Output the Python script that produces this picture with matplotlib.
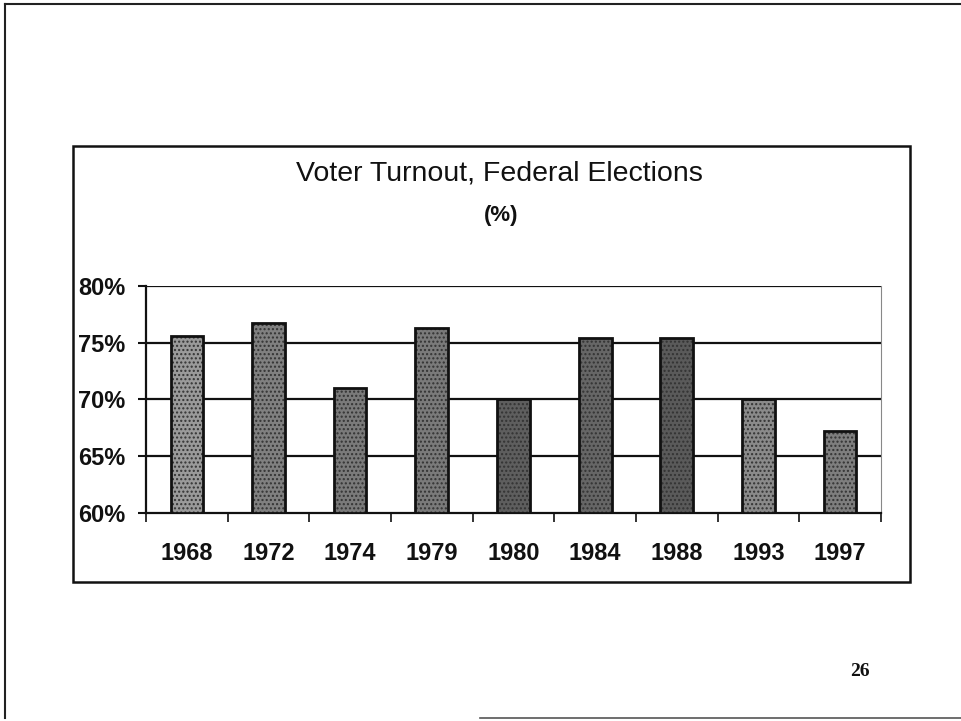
import matplotlib
matplotlib.use("Agg")
import matplotlib.pyplot as plt
from matplotlib.patches import Rectangle
from matplotlib.lines import Line2D
import numpy as np

years = ["1968", "1972", "1974", "1979", "1980", "1984", "1988", "1993", "1997"]
turnout = [75.6, 76.7, 71.0, 76.3, 70.0, 75.4, 75.4, 70.0, 67.2]
y_ticks = [60, 65, 70, 75, 80]
y_tick_labels = ["60%", "65%", "70%", "75%", "80%"]
title = "Voter Turnout, Federal Elections"
subtitle = "(%)"
page_number = "26"

bar_shades = ["#9a9a9a", "#808080", "#7a7a7a", "#7a7a7a", "#5e5e5e",
              "#666666", "#5a5a5a", "#8a8a8a", "#7e7e7e"]

W, H = 962, 721
fig = plt.figure(figsize=(W / 100, H / 100), dpi=100)
fig.patch.set_facecolor("white")

def fx(px):
    return px / W

def fy(py):
    return 1 - py / H

font = "Liberation Sans"

# page border
fig.add_artist(Line2D([fx(5), fx(5)], [fy(4), fy(718)], color="#222", lw=1.5))
fig.add_artist(Line2D([fx(5), fx(962)], [fy(4), fy(4)], color="#222", lw=1.5))
fig.add_artist(Line2D([fx(480), fx(962)], [fy(718), fy(718)], color="#555", lw=1.2))

# chart box
fig.add_artist(Rectangle((fx(73), fy(582)), fx(910) - fx(73), fy(146) - fy(582),
                         fill=False, edgecolor="#111", lw=1.8))

fig.text(fx(499), fy(174), title, ha="center", va="center",
         fontsize=20.5, family=font, color="#111")
fig.text(fx(501), fy(216), subtitle, ha="center", va="center",
         fontsize=16, family=font, fontweight="bold", color="#111")
fig.text(fx(860), fy(672), page_number, ha="center", va="center",
         fontsize=14, family="Liberation Serif", fontweight="bold", color="#111")

ax = fig.add_axes([fx(146), fy(513), fx(881) - fx(146), fy(286) - fy(513)])
x = np.arange(len(years))
ax.bar(x, [v - 60 for v in turnout], bottom=60, width=0.40,
       color=bar_shades, edgecolor="#333333", hatch="....", linewidth=0, zorder=3)
ax.bar(x, [v - 60 for v in turnout], bottom=60, width=0.40,
       facecolor="none", edgecolor="#111", linewidth=2.0, zorder=4)

ax.set_xlim(-0.5, len(years) - 0.5)
ax.set_ylim(60, 80)
ax.set_yticks(y_ticks)
ax.set_yticklabels(y_tick_labels, fontsize=17, family=font, fontweight="bold", color="#111")
ax.set_xticks(x)
ax.set_xticklabels(years, fontsize=17, family=font, fontweight="bold", color="#111")
ax.set_xticks(np.arange(-0.5, len(years), 1.0), minor=True)
ax.tick_params(axis="x", which="major", length=0, pad=21)
ax.tick_params(axis="x", which="minor", length=6.5, width=1.2, direction="out", color="#111")
ax.tick_params(axis="y", length=6, width=1.5, direction="out", pad=9, color="#111")

for v in y_ticks[1:]:
    ax.axhline(v, color="#111", lw=1.6, zorder=2)

for s in ["left", "bottom"]:
    ax.spines[s].set_color("#111")
    ax.spines[s].set_linewidth(1.6)
ax.spines["top"].set_visible(False)
ax.spines["right"].set_color("#888")
ax.spines["right"].set_linewidth(0.8)
ax.set_facecolor("white")

fig.savefig("out.png", dpi=100)
